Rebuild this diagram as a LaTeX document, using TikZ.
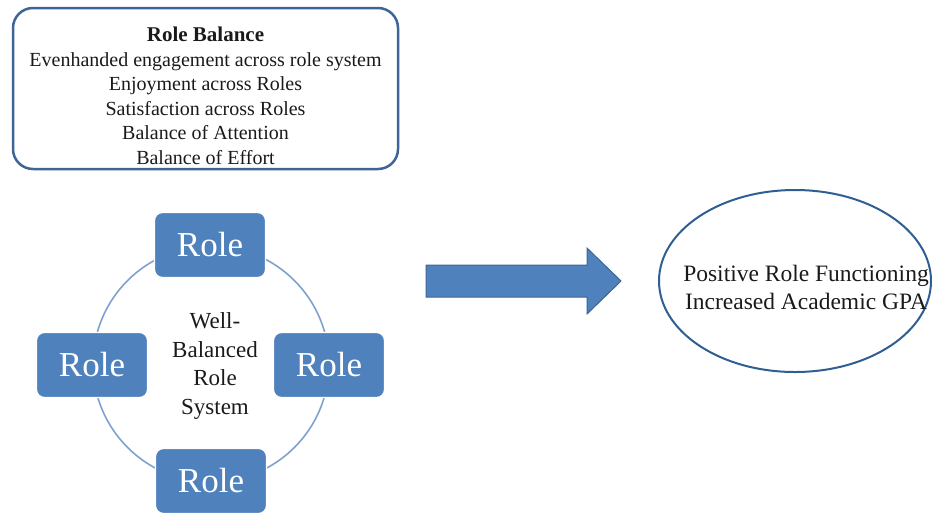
\documentclass[tikz,border=0pt]{standalone}
\usepackage{fontspec}
\setmainfont{Liberation Serif}
\usetikzlibrary{shapes.geometric}
\definecolor{roleblue}{HTML}{4F81BD}
\definecolor{boxline}{HTML}{3F6497}
\definecolor{ringline}{HTML}{7FA1CF}
\definecolor{ellline}{HTML}{2F5E93}
\definecolor{arrline}{HTML}{3D6596}
\definecolor{txt}{HTML}{1A1A1A}
\tikzset{
  rolebox/.style={rectangle, rounded corners=8pt, fill=roleblue, draw=white, line width=1.2pt,
    minimum width=111pt, minimum height=65pt, inner sep=0pt, text=white,
    font=\fontsize{35}{40}\selectfont},
  plain/.style={align=center, text=txt, inner sep=0pt}
}
\begin{document}
\begin{tikzpicture}[x=1pt, y=-1pt]
\useasboundingbox (0,0) rectangle (933,515);
% top box
\node[draw=boxline, line width=2.5pt, rounded corners=20pt, rectangle,
  minimum width=385pt, minimum height=161pt, inner sep=0pt] (balancebox) at (205.5,88.5) {};
\node[plain, font=\fontsize{20}{24.5}\selectfont] (balance) at (205.5,96)
  {{\fontsize{21}{24.5}\selectfont\bfseries Role Balance}\\
   Evenhanded engagement across role system\\
   Enjoyment across Roles\\
   Satisfaction across Roles\\
   Balance of Attention\\
   Balance of Effort};
% cycle
\node[circle, draw=ringline, line width=1.6pt, minimum size=236pt, inner sep=0pt] (cyc) at (211,364) {};
\node[rolebox] (rtop) at (210,245) {Role};
\node[rolebox] (rleft) at (92,365) {Role};
\node[rolebox] (rright) at (329,365) {Role};
\node[rolebox] (rbottom) at (211,481) {Role};
\node[plain, font=\fontsize{23}{28.5}\selectfont] (center) at (215,366)
  {Well-\\Balanced\\Role\\System};
% block arrow
\fill[roleblue, draw=arrline, line width=1pt]
  (426,265) -- (587,265) -- (587,248) -- (621,281) -- (587,314) -- (587,297) -- (426,297) -- cycle;
% outcome
\node[ellipse, draw=ellline, line width=2pt, minimum width=272pt, minimum height=182pt, inner sep=0pt] (outcome) at (795,281) {};
\node[plain, font=\fontsize{23.5}{28}\selectfont] (outtext) at (806,287)
  {Positive Role Functioning\\Increased Academic GPA};
\end{tikzpicture}
\end{document}
